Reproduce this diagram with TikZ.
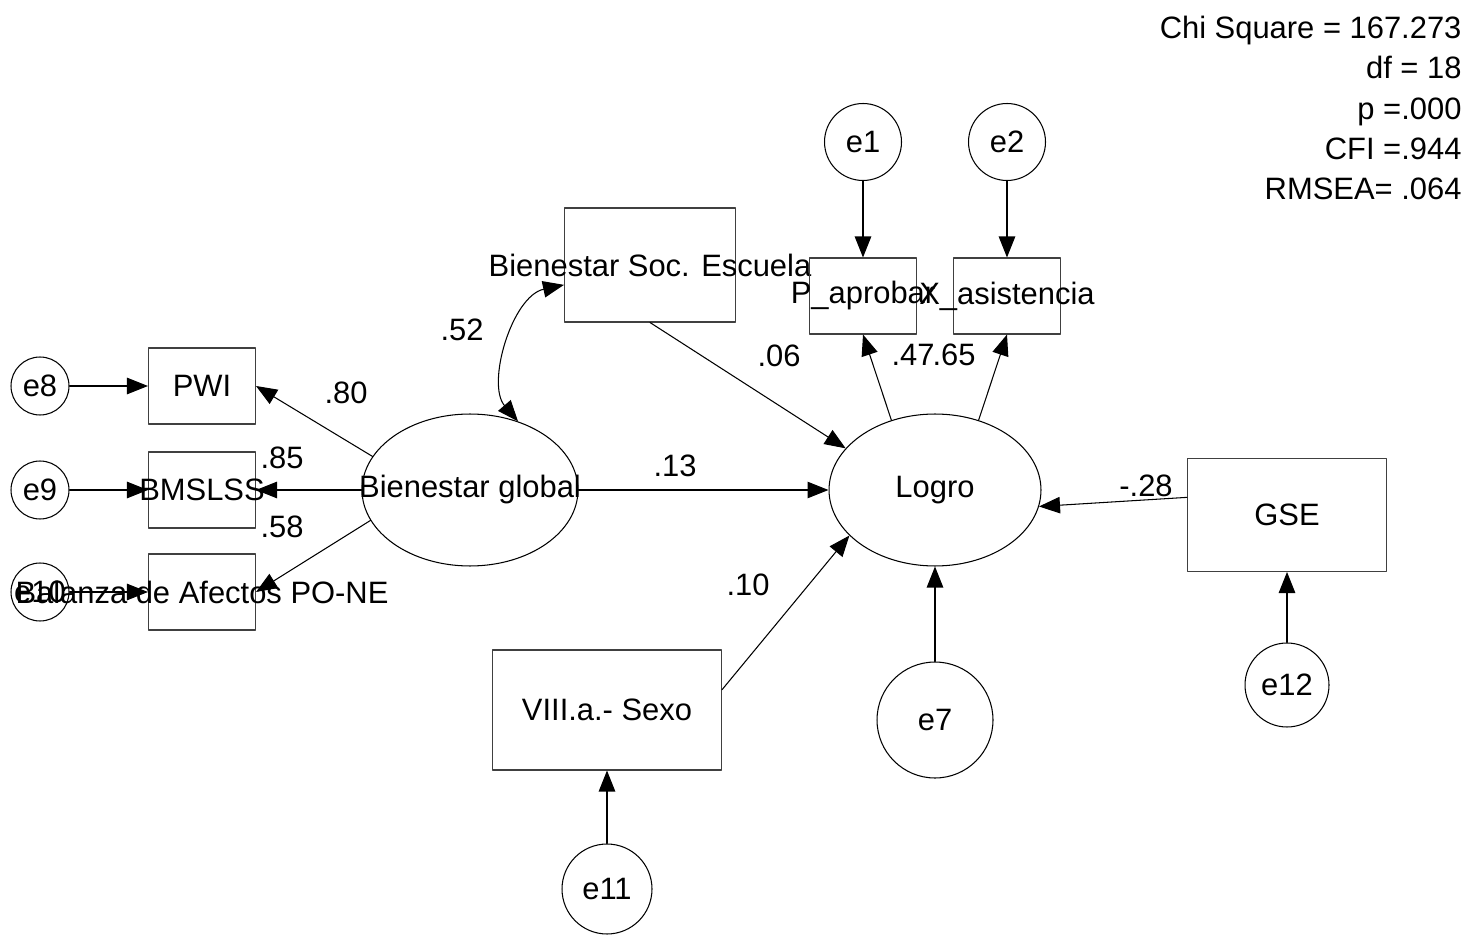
\documentclass[tikz,border=0pt]{standalone}
\usepackage{fontspec}
\setmainfont{Liberation Sans}
\usepackage{tikz}
\usetikzlibrary{arrows.meta,calc,positioning,shapes.geometric}
\newcommand{\wide}[1]{\makebox[0pt]{#1}}
\tikzset{
  obs/.style={rectangle, draw=black!75, inner sep=0pt, minimum width=2.14cm, minimum height=1.52cm},
  lat/.style={ellipse, draw, inner sep=0pt, minimum width=4.32cm, minimum height=3.04cm},
  err/.style={circle, draw, inner sep=0pt, minimum size=1.16cm},
  coef/.style={inner sep=0pt},
  pth/.style={->},
  every picture/.style={line cap=round, line join=round}
}
\begin{document}
\begin{tikzpicture}[x=0.02cm, y=-0.02cm, line width=0.6pt,
    >={Triangle[length=0.42cm,width=0.33cm]},
    font=\fontsize{17.6}{22.8}\selectfont]
    \useasboundingbox (0,0) rectangle (1470,935);

    % measured indicators
    \node[obs] (pwi) at (202,386) {\wide{PWI}};
    \node[obs] (bms) at (202,490) {\wide{BMSLSS}};
    \node[obs] (bal) at (202,592) {\wide{Balanza de Afectos PO-NE}};
    \node[obs, minimum width=3.42cm, minimum height=2.28cm] (bsoc) at (650,265) {\wide{Bienestar Soc. Escuela}};
    \node[obs] (pap) at (863,296) {\wide{P\_aprobar}};
    \node[obs] (xas) at (1007,296) {\wide{X\_asistencia}};
    \node[obs, minimum width=3.98cm, minimum height=2.26cm] (gse) at (1287,515) {\wide{GSE}};
    \node[obs, minimum width=4.58cm, minimum height=2.4cm] (sexo) at (607,710) {\wide{VIII.a.- Sexo}};

    % latent variables
    \node[lat] (bg) at (470,490) {\wide{Bienestar global}};
    \node[lat, minimum width=4.24cm] (logro) at (935,490) {\wide{Logro}};

    % error terms
    \node[err] (e8) at (40,386) {e8};
    \node[err] (e9) at (40,490) {e9};
    \node[err] (e10) at (40,592) {\wide{e10}};
    \node[err, minimum size=1.54cm] (e1) at (863,142) {e1};
    \node[err, minimum size=1.54cm] (e2) at (1007,142) {e2};
    \node[err, minimum size=2.32cm] (e7) at (935,720) {e7};
    \node[err, minimum size=1.68cm] (e12) at (1287,685) {e12};
    \node[err, minimum size=1.8cm] (e11) at (607,889) {e11};

    \draw[pth] (e8)--(pwi);
    \draw[pth] (e9)--(bms);
    \draw[pth] (e10)--(bal);
    \draw[pth] (e1)--(pap);
    \draw[pth] (e2)--(xas);
    \draw[pth] (e7)--(logro);
    \draw[pth] (e12)--(gse);
    \draw[pth] (e11)--(sexo);

    \draw[pth] (bg.161)--(pwi.east);
    \draw[pth] (bg.west)--(bms.east);
    \draw[pth] (bg.197)--(bal.east);
    \draw[pth] (bg.east)--(logro.west);
    \draw[pth] (bsoc.south)--(logro.155);
    \draw[pth] (sexo.10)--(logro.208);
    \draw[pth] (gse.170)--(logro.351);
    \draw[pth] (logro.122)--(pap.south);
    \draw[pth] (logro.58)--(xas.south);
    \draw[<->] (bsoc.193) .. controls (512,296) and (486,384) .. (bg.55);

    % coefficients
    \node[coef] (c80) at (346,393) {.80};
    \node[coef] (c85) at (282,458) {.85};
    \node[coef] (c58) at (282,527) {.58};
    \node[coef] (c52) at (462,330) {.52};
    \node[coef] (c06) at (779,356) {.06};
    \node[coef] (c13) at (675,466) {.13};
    \node[coef] (c10) at (748,585) {.10};
    \node[coef] (c28) at (1146,486) {-.28};
    \node[coef] (c47) at (913,355) {.47};
    \node[coef] (c65) at (954,355) {.65};

    \node[coef, anchor=north east, align=right] (fit) at (1462,16)
      {Chi Square = 167.273\\df = 18\\p =.000\\CFI =.944\\RMSEA= .064};
  \end{tikzpicture}
\end{document}
